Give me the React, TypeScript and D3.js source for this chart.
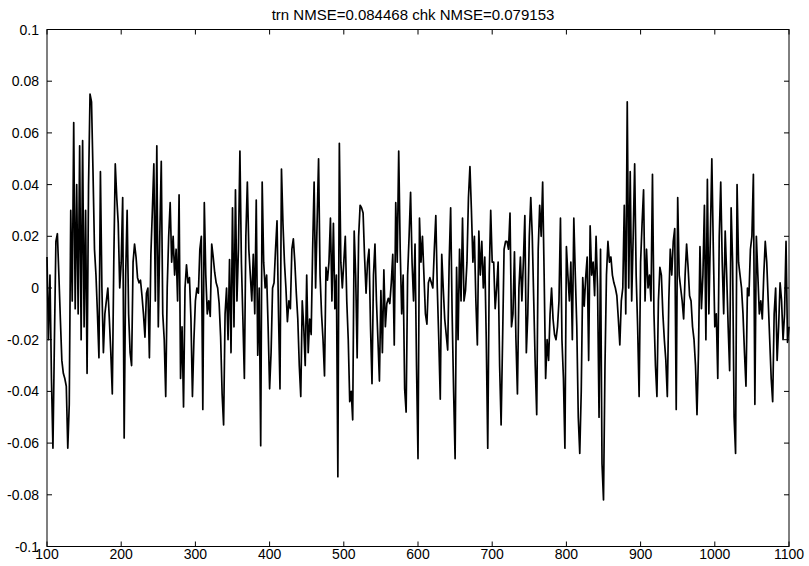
import React from 'react';
import * as d3 from 'd3';

// samples, every 2 steps from 100 to 1100
const startX = 100;
const stepX = 2;
const values = [
  // 100 - 200
  0.012, -0.02, 0.005, -0.035, -0.062, -0.02, 0.018, 0.021, 0.005, -0.012,
  -0.028, -0.033, -0.035, -0.038, -0.062, -0.045, 0.030, -0.005, 0.064, -0.008,
  0.040, -0.010, 0.055, -0.02, 0.057, -0.015, 0.030, -0.033, 0.040, 0.075,
  0.072, 0.045, 0.015, 0.005, -0.01, -0.027, 0.045, 0.0, -0.025, -0.01,
  -0.005, 0.0, -0.012, -0.025, -0.041, 0.01, 0.048, 0.035, 0.025, 0.0,
  0.010,
  // 202 - 300
  0.035, -0.058, 0.005, 0.030, -0.01, -0.025, -0.030, 0.010, 0.017, 0.012,
  0.004, 0.002, 0.003, -0.003, -0.010, -0.019, -0.002, 0.0, -0.027, 0.013,
  0.030, 0.048, -0.005, 0.055, -0.015, 0.020, 0.049, -0.010, -0.020, -0.042,
  0.0, 0.020, 0.033, 0.010, 0.020, 0.005, 0.015, -0.005, 0.036, -0.035,
  -0.015, -0.046, 0.0, 0.009, 0.002, 0.004, -0.012, -0.042, -0.020, -0.005,
  // 302 - 400
  0.0, -0.002, 0.015, 0.020, -0.047, 0.033, 0.005, -0.010, -0.005, -0.011,
  0.017, 0.012, 0.006, 0.002, 0.0, -0.006, -0.019, -0.041, -0.053, -0.010,
  0.0, -0.020, 0.011, -0.025, 0.031, -0.015, 0.038, -0.005, 0.015, 0.053,
  0.010, -0.012, -0.035, 0.020, 0.041, 0.015, 0.005, -0.005, 0.013, -0.010,
  0.034, -0.026, 0.0, -0.061, 0.041, 0.010, 0.0, 0.005, -0.015, -0.039,
  // 402 - 500
  -0.025, 0.0, 0.002, 0.015, 0.026, -0.01, -0.039, 0.046, 0.025, 0.010,
  0.0, -0.013, -0.005, -0.008, 0.015, 0.019, 0.010, -0.002, -0.012, -0.030,
  -0.042, -0.005, -0.015, -0.030, 0.005, -0.025, -0.012, -0.018, 0.015, 0.041,
  0.0, 0.025, 0.050, 0.005, -0.010, -0.020, -0.034, 0.008, 0.003, 0.010,
  0.027, -0.005, 0.025, -0.008, 0.005, -0.073, 0.056, 0.010, 0.0, 0.010,
  // 502 - 600
  0.020, -0.005, -0.020, -0.044, -0.040, -0.051, 0.022, 0.005, -0.027, 0.020,
  0.032, 0.031, 0.029, 0.012, -0.002, 0.010, 0.015, -0.015, -0.037, 0.005,
  0.017, -0.005, -0.020, -0.036, -0.001, -0.025, 0.007, -0.015, -0.006, -0.004,
  -0.006, 0.002, 0.013, -0.022, 0.033, 0.010, 0.053, 0.015, -0.010, 0.005,
  -0.039, -0.048, 0.005, 0.020, 0.037, 0.010, -0.005, 0.017, -0.030, -0.066,
  // 602 - 700
  0.027, 0.010, 0.020, 0.005, -0.010, -0.014, 0.002, 0.004, 0.002, 0.0,
  0.015, 0.028, 0.0, -0.020, -0.043, 0.013, 0.0, -0.012, -0.018, -0.024,
  0.010, 0.031, -0.010, -0.040, -0.066, 0.008, -0.020, 0.015, -0.005, 0.027,
  -0.005, -0.001, 0.010, 0.035, 0.047, 0.030, 0.010, 0.020, -0.005, -0.022,
  0.022, 0.005, 0.018, 0.0, 0.012, -0.020, -0.062, 0.005, 0.030, 0.010,
  // 702 - 800
  0.010, -0.008, 0.0, 0.010, -0.030, -0.053, -0.020, 0.015, 0.018, 0.018,
  0.015, 0.029, -0.015, -0.010, 0.014, -0.020, -0.041, 0.0, 0.012, -0.005,
  0.010, 0.028, -0.025, -0.010, 0.020, 0.035, 0.020, -0.005, -0.030, -0.049,
  0.015, 0.032, 0.020, 0.041, 0.005, -0.035, -0.020, -0.028, -0.010, 0.0,
  -0.012, -0.018, -0.020, -0.015, -0.005, 0.027, -0.020, -0.035, -0.062, 0.016,
  // 802 - 900
  0.005, -0.005, 0.010, -0.020, 0.027, 0.005, -0.015, -0.050, -0.064, -0.040,
  0.004, -0.007, 0.004, 0.012, -0.028, 0.024, 0.005, 0.010, -0.003, 0.020,
  0.0, -0.050, 0.015, -0.068, -0.082, -0.030, 0.005, 0.018, 0.010, 0.012,
  0.005, 0.002, 0.0, -0.003, -0.012, -0.022, -0.005, 0.0, 0.032, -0.010,
  0.072, 0.0, 0.045, -0.005, 0.020, 0.048, 0.005, -0.015, -0.042, 0.010,
  // 902 - 1000
  0.025, 0.038, -0.005, 0.015, 0.0, 0.005, -0.005, 0.044, -0.010, -0.030,
  -0.042, -0.005, 0.008, 0.005, -0.010, -0.020, -0.028, -0.042, -0.005, 0.015,
  0.005, 0.018, 0.023, -0.047, 0.035, 0.005, 0.0, -0.005, -0.012, 0.005,
  0.017, 0.008, -0.003, -0.005, -0.015, -0.020, -0.030, -0.049, -0.025, 0.016,
  -0.008, 0.005, 0.032, -0.020, 0.042, -0.010, 0.020, 0.050, 0.015, -0.015,
  // 1002 - 1100
  -0.010, -0.035, 0.020, 0.041, 0.010, -0.010, 0.022, 0.005, -0.015, -0.032,
  0.031, 0.010, -0.050, -0.064, 0.040, 0.010, 0.005, 0.0, -0.010, -0.025,
  -0.038, 0.0, -0.003, 0.015, 0.020, 0.044, -0.045, 0.020, 0.005, -0.010,
  -0.005, -0.012, 0.005, 0.018, 0.010, -0.005, -0.020, -0.035, -0.044, -0.010,
  0.0, -0.028, -0.015, 0.002, -0.005, -0.020, -0.010, 0.018, -0.021, -0.015,
];

const xTicks = [100, 200, 300, 400, 500, 600, 700, 800, 900, 1000, 1100];
const yTicks = [0.1, 0.08, 0.06, 0.04, 0.02, 0, -0.02, -0.04, -0.06, -0.08, -0.1];
const yTickLabels = ['0.1', '0.08', '0.06', '0.04', '0.02', '0', '-0.02', '-0.04', '-0.06', '-0.08', '-0.1'];
const title = 'trn NMSE=0.084468 chk NMSE=0.079153';

const W = 809;
const H = 566;
const left = 47;
const right = 789;
const top = 29.5;
const bottom = 546.5;
const font = '"Liberation Sans", Arial, sans-serif';

export default function App() {
  const x = d3.scaleLinear().domain([100, 1100]).range([left, right]);
  const y = d3.scaleLinear().domain([-0.1, 0.1]).range([bottom, top]);

  const line = d3.line<number>()
    .x((_, i) => x(startX + i * stepX))
    .y(d => y(d));

  const tick = 5;

  return (
    <svg width={W} height={H} style={{ position: 'absolute', left: 0, top: 0, background: '#fff' }}>
      <rect x={0} y={0} width={W} height={H} fill="#fff" />
      <text x={413} y={20} textAnchor="middle" fontFamily={font} fontSize={15} fill="#000">
        {title}
      </text>

      <path d={line(values) || ''} fill="none" stroke="#000" strokeWidth={1.7} strokeLinejoin="round" />

      <rect x={left} y={top} width={right - left} height={bottom - top} fill="none" stroke="#000" strokeWidth={1} />

      {xTicks.map(t => (
        <g key={'x' + t}>
          <line x1={x(t)} x2={x(t)} y1={bottom} y2={bottom - tick} stroke="#000" />
          <line x1={x(t)} x2={x(t)} y1={top} y2={top + tick} stroke="#000" />
          <text x={x(t)} y={559} textAnchor="middle" fontFamily={font} fontSize={14} fill="#000">{t}</text>
        </g>
      ))}

      {yTicks.map((t, i) => (
        <g key={'y' + i}>
          <line x1={left} x2={left + tick} y1={y(t)} y2={y(t)} stroke="#000" />
          <line x1={right} x2={right - tick} y1={y(t)} y2={y(t)} stroke="#000" />
          <text x={39} y={y(t) + 5} textAnchor="end" fontFamily={font} fontSize={14} fill="#000">{yTickLabels[i]}</text>
        </g>
      ))}
    </svg>
  );
}
